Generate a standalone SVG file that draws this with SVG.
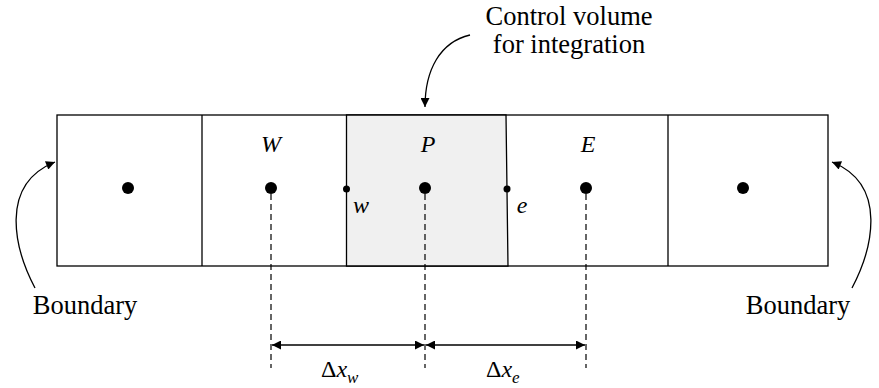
<svg xmlns="http://www.w3.org/2000/svg" width="879" height="388" viewBox="0 0 879 388">
<style>
.l{stroke:#000;stroke-width:1.3;fill:none}
.d{stroke:#000;stroke-width:1.2;stroke-dasharray:6,4;fill:none}
.t{font-family:'Liberation Serif','DejaVu Serif','Times New Roman',serif;font-size:26.5px;fill:#000}
.i{font-family:'Liberation Serif','DejaVu Serif','Times New Roman',serif;font-style:italic;font-size:24px;fill:#000}
.u{font-style:normal}
</style>
<defs>
<marker id="ah" viewBox="0 0 10 10" refX="10" refY="5" markerWidth="11" markerHeight="9" markerUnits="userSpaceOnUse" orient="auto-start-reverse">
<path d="M0,0 L10,5 L0,10 z" fill="#000"/>
</marker>
</defs>
<g id="grid">
<rect x="57" y="115" width="771" height="151" fill="#fff" stroke="#000" stroke-width="1.3"/>
<polygon points="346.5,115 506,115 508,266 346.5,266" fill="#f0f0f0" stroke="#000" stroke-width="1.3"/>
<line class="l" x1="202" y1="115" x2="202" y2="266"/>
<line class="l" x1="668" y1="115" x2="668" y2="266"/>
</g>
<g id="node-left"><circle cx="128" cy="188" r="6"/></g>
<g id="node-W"><circle cx="271" cy="188" r="6"/><text class="i" x="271" y="152" text-anchor="middle">W</text></g>
<g id="node-P"><circle cx="425" cy="188" r="6"/><text class="i" x="428" y="152" text-anchor="middle">P</text></g>
<g id="node-E"><circle cx="586" cy="188" r="6"/><text class="i" x="588" y="152" text-anchor="middle">E</text></g>
<g id="node-right"><circle cx="743" cy="188" r="6"/></g>
<g id="face-w"><circle cx="346.5" cy="189" r="3.5"/><text class="i" x="361" y="213" text-anchor="middle">w</text></g>
<g id="face-e"><circle cx="507" cy="189" r="3.5"/><text class="i" x="522" y="213" text-anchor="middle">e</text></g>
<g id="label-cv"><text class="t" x="569" y="25" text-anchor="middle">Control volume</text><text class="t" x="569" y="53" text-anchor="middle">for integration</text></g>
<g id="label-boundary-left"><text class="t" x="85" y="314" text-anchor="middle">Boundary</text></g>
<g id="label-boundary-right"><text class="t" x="798" y="314" text-anchor="middle">Boundary</text></g>
<g id="label-dxw"><text class="i" x="321" y="377"><tspan class="u">Δ</tspan>x<tspan font-size="17" dy="6">w</tspan></text></g>
<g id="label-dxe"><text class="i" x="486" y="377"><tspan class="u">Δ</tspan>x<tspan font-size="17" dy="6">e</tspan></text></g>
<g id="connectors">
<path class="l" d="M470,35 C440,42 425,70 425,107" marker-end="url(#ah)"/>
<path class="l" d="M35,288 C15,250 -2,185 55,162" marker-end="url(#ah)"/>
<path class="l" d="M852,288 C872,250 889,185 832,162" marker-end="url(#ah)"/>
<line class="d" x1="271" y1="194" x2="271" y2="368"/>
<line class="d" x1="425" y1="194" x2="425" y2="368"/>
<line class="d" x1="586" y1="194" x2="586" y2="368"/>
<line class="l" x1="272" y1="345" x2="424" y2="345" marker-start="url(#ah)" marker-end="url(#ah)"/>
<line class="l" x1="426" y1="345" x2="585" y2="345" marker-start="url(#ah)" marker-end="url(#ah)"/>
</g>
</svg>
